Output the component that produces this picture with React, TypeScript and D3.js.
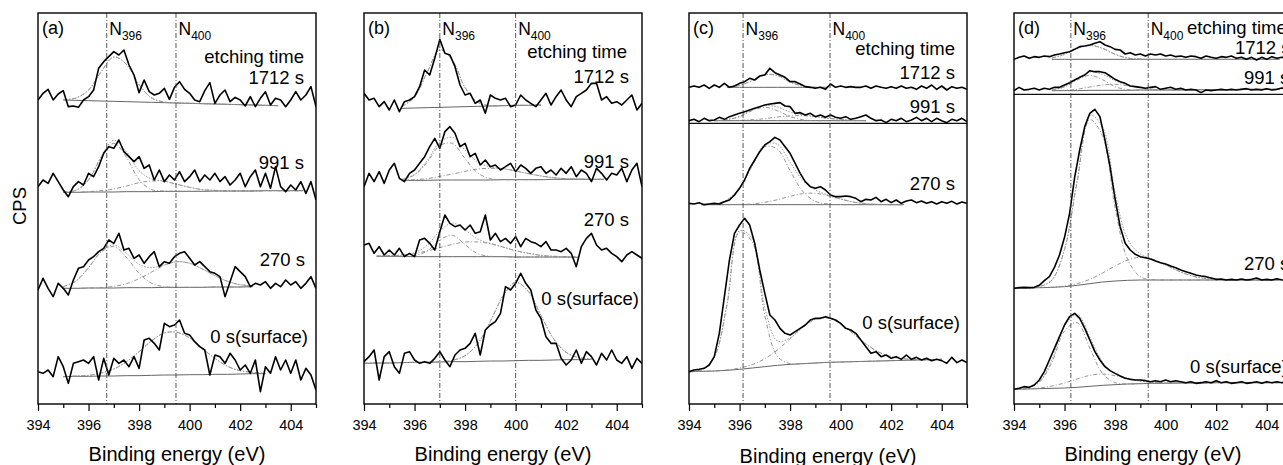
import { useEffect, useRef } from "react";
import * as d3 from "d3";

const _ = null;

// binding energy grid of the measured spectra (eV)
const ENERGY = [
  394.0, 394.2, 394.4, 394.6, 394.8, 395.0, 395.2, 395.4, 395.6, 395.8,
  396.0, 396.2, 396.4, 396.6, 396.8, 397.0, 397.2, 397.4, 397.6, 397.8,
  398.0, 398.2, 398.4, 398.6, 398.8, 399.0, 399.2, 399.4, 399.6, 399.8,
  400.0, 400.2, 400.4, 400.6, 400.8, 401.0, 401.2, 401.4, 401.6, 401.8,
  402.0, 402.2, 402.4, 402.6, 402.8, 403.0, 403.2, 403.4, 403.6, 403.8,
  404.0, 404.2, 404.4, 404.6, 404.8, 405.0,
];

// energy grid of the fitted curves (eV)
const FIT_ENERGY = [
  394.0, 394.5, 395.0, 395.5, 396.0, 396.5, 397.0, 397.5, 398.0, 398.5, 399.0, 399.5,
  400.0, 400.5, 401.0, 401.5, 402.0, 402.5, 403.0, 403.5, 404.0, 404.5, 405.0,
];

const X_TICKS = [394, 396, 398, 400, 402, 404];
const X_MINOR = [395, 397, 399, 401, 403, 405];
const ETCH_TIMES = ["1712 s", "991 s", "270 s", "0 s(surface)"];

// ---- panel (a) ----
const A_1712 = [912, 932, 944, 912, 930, 940, 892, 894, 890, 912, 922, 942, 1007, 1027, 1042, 1057, 1047, 1062, 1017, 987, 934, 972, 937, 927, 932, 947, 914, 950, 967, 944, 932, 912, 907, 940, 964, 902, 927, 942, 907, 920, 912, 894, 922, 892, 917, 937, 897, 917, 912, 892, 912, 937, 912, 927, 952, 892];
const A_991 = [652, 672, 662, 692, 667, 642, 622, 652, 667, 657, 692, 682, 712, 752, 772, 767, 792, 757, 742, 727, 742, 707, 717, 672, 702, 667, 687, 672, 697, 667, 682, 702, 667, 687, 672, 692, 667, 682, 657, 672, 692, 652, 682, 702, 652, 692, 647, 712, 652, 637, 657, 642, 667, 632, 667, 612];
const A_270 = [342, 377, 347, 322, 362, 347, 327, 372, 407, 412, 432, 442, 457, 467, 492, 482, 512, 462, 467, 437, 447, 422, 442, 457, 412, 427, 422, 442, 452, 457, 437, 417, 427, 412, 397, 392, 382, 322, 367, 412, 397, 382, 352, 362, 357, 367, 347, 362, 352, 372, 357, 367, 347, 362, 382, 347];
const A_0 = [97, 92, 102, 82, 142, 112, 62, 122, 127, 132, 122, 142, 72, 137, 87, 137, 122, 132, 112, 142, 107, 192, 197, 182, 162, 242, 232, 237, 252, 212, 207, 187, 172, 162, 87, 147, 142, 122, 152, 132, 102, 117, 92, 132, 37, 112, 92, 142, 102, 132, 92, 132, 72, 107, 87, 42];

const A_1712_BG = [_, _, 912, 911, 910, 909, 908, 907, 906, 905, 904, 903, 902, 901, 900, 899, 898, 897, 896, 895, _, _, _];
const A_1712_P1 = [0, 0, 1, 7, 32, 88, 133, 112, 52, 13, 2, 0, 0, 0, 0, 0, 0, 0, 0, 0, 0, 0, 0];
const A_991_BG = [_, _, 635, 635, 636, 636, 636, 637, 637, 637, 638, 638, 638, 638, 639, 639, 639, 639, 640, 640, 640, 640, _];
const A_991_P1 = [0, 0, 1, 6, 36, 103, 146, 103, 36, 6, 1, 0, 0, 0, 0, 0, 0, 0, 0, 0, 0, 0, 0];
const A_991_P2 = [0, 0, 0, 0, 1, 4, 9, 17, 27, 32, 30, 21, 12, 5, 2, 0, 0, 0, 0, 0, 0, 0, 0];
const A_270_BG = [_, _, 347, 347, 348, 348, 348, 349, 349, 349, 350, 350, 350, 350, 351, 351, 351, 352, _, _, _, _, _];
const A_270_P1 = [0, 0, 5, 22, 61, 108, 124, 91, 43, 13, 2, 0, 0, 0, 0, 0, 0, 0, 0, 0, 0, 0, 0];
const A_270_P2 = [0, 0, 0, 0, 0, 1, 5, 12, 27, 47, 66, 77, 72, 55, 34, 17, 7, 2, 0, 0, 0, 0, 0];
const A_0_BG = [_, _, 82, 83, 83, 84, 84, 85, 85, 86, 87, 87, 88, 88, 89, 89, 90, 91, 91, _, _, _, _];
const A_0_P1 = [0, 0, 0, 1, 3, 9, 21, 42, 72, 104, 126, 128, 110, 79, 48, 24, 10, 4, 1, 0, 0, 0, 0];

// ---- panel (b) ----
const B_1712 = [932, 912, 917, 892, 907, 882, 912, 877, 907, 912, 922, 952, 1002, 987, 1037, 1094, 1052, 1047, 1012, 957, 927, 932, 902, 912, 872, 927, 917, 912, 917, 892, 897, 927, 912, 902, 892, 912, 932, 897, 922, 942, 912, 892, 922, 932, 942, 962, 962, 912, 922, 902, 907, 897, 912, 927, 882, 902];
const B_991 = [652, 692, 667, 697, 662, 702, 722, 677, 667, 692, 702, 722, 742, 772, 797, 767, 817, 832, 812, 772, 782, 742, 752, 717, 732, 712, 717, 702, 712, 722, 697, 717, 707, 692, 707, 712, 692, 702, 687, 707, 692, 712, 682, 702, 692, 667, 707, 692, 672, 692, 687, 707, 667, 702, 722, 652];
const B_270 = [477, 482, 452, 472, 447, 462, 447, 467, 442, 452, 442, 492, 497, 482, 462, 517, 567, 542, 532, 537, 522, 537, 512, 517, 567, 492, 512, 487, 497, 482, 502, 472, 497, 487, 482, 472, 487, 462, 462, 457, 467, 452, 412, 472, 497, 512, 477, 462, 467, 452, 442, 427, 447, 457, 447, 437];
const B_0 = [127, 142, 162, 72, 142, 157, 112, 92, 152, 157, 132, 122, 127, 122, 137, 157, 132, 112, 147, 162, 167, 182, 212, 147, 222, 237, 247, 272, 352, 342, 362, 392, 362, 342, 282, 257, 202, 182, 182, 137, 117, 132, 162, 122, 157, 142, 117, 152, 132, 162, 132, 122, 142, 107, 137, 122];

const B_1712_BG = [_, _, _, 887, 888, 889, 890, 891, 892, 893, 894, 895, 896, 896, 897, _, _, _, _, _, _, _, _];
const B_1712_P1 = [0, 0, 0, 5, 33, 106, 173, 140, 57, 12, 1, 0, 0, 0, 0, 0, 0, 0, 0, 0, 0, 0, 0];
const B_991_BG = [_, _, _, 671, 671, 671, 672, 672, 672, 672, 672, 673, 673, 673, 673, 674, 674, 674, 674, 674, _, _, _];
const B_991_P1 = [0, 0, 0, 2, 16, 54, 103, 110, 64, 21, 4, 0, 0, 0, 0, 0, 0, 0, 0, 0, 0, 0, 0];
const B_991_P2 = [0, 0, 0, 1, 2, 5, 11, 18, 26, 33, 35, 33, 26, 18, 11, 5, 2, 1, 0, 0, 0, 0, 0];
const B_270_BG = [_, 443, 443, 443, 442, 442, 442, 442, 442, 442, 442, 442, 441, 441, 441, 441, 441, 440, _, _, _, _, _];
const B_270_P1 = [0, 0, 0, 0, 3, 17, 50, 64, 36, 9, 1, 0, 0, 0, 0, 0, 0, 0, 0, 0, 0, 0, 0];
const B_270_P2 = [0, 1, 2, 4, 9, 17, 27, 37, 44, 44, 39, 29, 19, 11, 5, 2, 1, 0, 0, 0, 0, 0, 0];
const B_0_BG = [122, 123, 123, 124, 125, 125, 126, 127, 127, 128, 129, 129, 130, 131, 131, 132, 133, 133, 134, _, _, _, _];
const B_0_P1 = [0, 0, 0, 0, 0, 0, 1, 4, 18, 53, 119, 195, 235, 207, 135, 64, 22, 6, 1, 0, 0, 0, 0];

// ---- panel (c) ----
const C_1712 = [950, 954, 950, 957, 947, 957, 950, 962, 950, 954, 962, 967, 977, 972, 984, 987, 1007, 994, 987, 980, 967, 967, 960, 952, 950, 947, 950, 944, 960, 950, 954, 950, 952, 950, 950, 954, 947, 954, 950, 947, 952, 947, 954, 947, 950, 944, 954, 947, 957, 944, 954, 942, 952, 947, 950, 944];
const C_991 = [850, 854, 847, 857, 850, 852, 860, 854, 862, 867, 872, 877, 882, 887, 892, 897, 900, 902, 904, 894, 892, 872, 874, 867, 872, 862, 867, 860, 867, 860, 857, 862, 854, 857, 862, 867, 857, 850, 852, 844, 854, 850, 857, 847, 852, 860, 850, 857, 847, 857, 850, 844, 854, 850, 857, 847];
const C_270 = [602, 600, 604, 598, 600, 602, 600, 607, 612, 627, 647, 672, 707, 732, 757, 777, 787, 800, 792, 772, 752, 722, 692, 667, 652, 647, 652, 642, 627, 622, 622, 624, 622, 617, 607, 614, 612, 620, 607, 614, 604, 612, 602, 609, 612, 604, 609, 602, 607, 600, 607, 602, 608, 600, 606, 602];
const C_0 = [97, 102, 104, 107, 117, 142, 212, 322, 432, 512, 537, 557, 537, 482, 402, 332, 267, 252, 227, 212, 207, 217, 227, 237, 252, 257, 257, 262, 257, 252, 242, 227, 222, 212, 192, 172, 152, 157, 142, 147, 137, 142, 134, 147, 134, 140, 132, 137, 130, 134, 130, 122, 140, 124, 132, 124];

const C_1712_BG = [_, _, _, 950, 950, 950, 950, 950, 950, 950, 950, 950, _, _, _, _, _, _, _, _, _, _, _];
const C_1712_P1 = [0, 0, 0, 1, 6, 20, 38, 35, 16, 4, 0, 0, 0, 0, 0, 0, 0, 0, 0, 0, 0, 0, 0];
const C_991_BG = [_, _, 850, 850, 850, 850, 850, 850, 850, 850, 850, 850, 850, 850, 850, _, _, _, _, _, _, _, _];
const C_991_P1 = [0, 0, 0, 3, 12, 30, 40, 30, 12, 3, 0, 0, 0, 0, 0, 0, 0, 0, 0, 0, 0, 0, 0];
const C_991_P2 = [0, 0, 0, 0, 1, 3, 6, 11, 14, 15, 12, 7, 4, 1, 0, 0, 0, 0, 0, 0, 0, 0, 0];
const C_270_BG = [_, 598, 598, 598, 598, 598, 598, 598, 598, 598, 598, 598, 598, 598, 598, 598, 598, 598, _, _, _, _, _];
const C_270_P1 = [0, 0, 2, 14, 50, 116, 174, 166, 102, 40, 10, 2, 0, 0, 0, 0, 0, 0, 0, 0, 0, 0, 0];
const C_270_P2 = [0, 0, 0, 0, 1, 2, 7, 15, 25, 33, 34, 27, 17, 8, 3, 1, 0, 0, 0, 0, 0, 0, 0];
const C_0_BG = [97, 98, 99, 101, 104, 108, 112, 116, 119, 121, 123, 125, 126, 127, 128, 129, 130, 131, 132, 133, 134, _, _];
const C_0_P1 = [0, 4, 41, 196, 412, 379, 153, 27, 2, 0, 0, 0, 0, 0, 0, 0, 0, 0, 0, 0, 0, 0, 0];
const C_0_P2 = [0, 0, 0, 1, 4, 10, 24, 46, 77, 109, 131, 133, 115, 84, 52, 27, 12, 5, 1, 0, 0, 0, 0];

// ---- panel (d) ----
const D_1712 = [1034, 1040, 1044, 1037, 1042, 1040, 1044, 1042, 1047, 1050, 1054, 1057, 1064, 1072, 1074, 1077, 1082, 1087, 1077, 1072, 1064, 1062, 1050, 1054, 1047, 1050, 1044, 1050, 1047, 1050, 1044, 1047, 1042, 1044, 1040, 1044, 1042, 1037, 1044, 1040, 1037, 1042, 1040, 1044, 1037, 1040, 1034, 1040, 1032, 1040, 1034, 1042, 1037, 1040, 1040, 1040];
const D_991 = [940, 950, 942, 944, 947, 942, 947, 944, 950, 950, 957, 964, 972, 980, 987, 1000, 997, 997, 994, 984, 974, 967, 962, 954, 952, 950, 947, 950, 952, 944, 947, 950, 944, 947, 942, 944, 942, 934, 942, 940, 942, 944, 942, 944, 942, 944, 946, 942, 944, 942, 946, 942, 944, 948, 946, 946];
const D_270 = [347, 349, 350, 349, 350, 356, 370, 382, 410, 447, 500, 572, 680, 762, 832, 872, 884, 862, 792, 712, 615, 532, 482, 462, 449, 442, 439, 435, 429, 424, 420, 414, 409, 402, 397, 392, 387, 384, 382, 378, 374, 375, 372, 374, 372, 375, 372, 374, 378, 372, 374, 372, 376, 372, 372, 372];
const D_0 = [44, 47, 52, 50, 57, 72, 97, 132, 167, 202, 237, 262, 272, 257, 227, 192, 157, 132, 112, 100, 92, 84, 77, 74, 72, 72, 70, 67, 70, 67, 72, 67, 70, 67, 64, 67, 62, 64, 67, 64, 70, 64, 67, 62, 64, 67, 62, 64, 67, 62, 67, 64, 67, 64, 64, 64];

const D_1712_BG = [_, _, _, 1034, 1034, 1034, 1034, 1034, 1034, 1034, 1034, 1034, 1034, 1034, 1034, 1034, 1034, 1034, 1034, 1034, 1034, 1034, _];
const D_1712_P1 = [0, 0, 0, 4, 15, 33, 42, 33, 15, 4, 1, 0, 0, 0, 0, 0, 0, 0, 0, 0, 0, 0, 0];
const D_991_BG = [_, _, _, 940, 940, 940, 941, 941, 941, 941, 942, 942, 942, 942, 943, 943, 943, 943, 944, 944, 944, 944, _];
const D_991_P1 = [0, 0, 0, 2, 11, 32, 45, 32, 11, 2, 0, 0, 0, 0, 0, 0, 0, 0, 0, 0, 0, 0, 0];
const D_991_P2 = [0, 0, 0, 0, 1, 4, 10, 16, 18, 14, 7, 2, 1, 0, 0, 0, 0, 0, 0, 0, 0, 0, 0];
const D_270_BG = [347, 348, 349, 350, 352, 356, 361, 366, 369, 371, 372, 372, 372, 372, 372, 372, 372, 372, 372, 372, 372, 372, _];
const D_270_P1 = [0, 0, 3, 22, 111, 311, 492, 439, 220, 62, 10, 1, 0, 0, 0, 0, 0, 0, 0, 0, 0, 0, 0];
const D_270_P2 = [0, 0, 0, 0, 2, 5, 13, 27, 45, 61, 68, 61, 45, 27, 13, 5, 2, 0, 0, 0, 0, 0, 0];
const D_0_BG = [44, 45, 46, 47, 48, 50, 53, 56, 58, 60, 61, 62, 62, 63, 63, 63, 64, 64, 64, 64, 64, 64, _];
const D_0_P1 = [0, 2, 19, 78, 171, 194, 115, 36, 6, 0, 0, 0, 0, 0, 0, 0, 0, 0, 0, 0, 0, 0, 0];
const D_0_P2 = [0, 1, 2, 7, 15, 25, 33, 34, 27, 17, 8, 3, 1, 0, 0, 0, 0, 0, 0, 0, 0, 0, 0];

const FONT = "'Liberation Sans', Arial, Helvetica, sans-serif";
const W = 1283;
const H = 465;
const PANEL_W = 278;
const TOP = 13;
const BOTTOM = 404;

// label positions are px offsets from the panel's left edge
const PANELS = [
  {
    tag: "(a)", left: 38, marks: [396.72, 399.46], divider: null,
    spectra: [A_1712, A_991, A_270, A_0],
    fits: [[A_1712_BG, [A_1712_P1]], [A_991_BG, [A_991_P1, A_991_P2]], [A_270_BG, [A_270_P1, A_270_P2]], [A_0_BG, [A_0_P1]]],
    anchor: "end", etch: [266, 63], times: [[266, 84], [266, 169], [267, 266], [270, 343]],
  },
  {
    tag: "(b)", left: 364, marks: [397.0, 400.0], divider: null,
    spectra: [B_1712, B_991, B_270, B_0],
    fits: [[B_1712_BG, [B_1712_P1]], [B_991_BG, [B_991_P1, B_991_P2]], [B_270_BG, [B_270_P1, B_270_P2]], [B_0_BG, [B_0_P1]]],
    anchor: "end", etch: [263, 58], times: [[265, 83], [265, 168], [265, 226], [275, 305]],
  },
  {
    tag: "(c)", left: 689, marks: [396.14, 399.58], divider: 842,
    spectra: [C_1712, C_991, C_270, C_0],
    fits: [[C_1712_BG, [C_1712_P1]], [C_991_BG, [C_991_P1, C_991_P2]], [C_270_BG, [C_270_P1, C_270_P2]], [C_0_BG, [C_0_P1, C_0_P2]]],
    anchor: "end", etch: [266, 55], times: [[266, 79], [266, 113], [266, 190], [271, 329]],
  },
  {
    tag: "(d)", left: 1014, marks: [396.25, 399.31], divider: 929,
    spectra: [D_1712, D_991, D_270, D_0],
    fits: [[D_1712_BG, [D_1712_P1]], [D_991_BG, [D_991_P1, D_991_P2]], [D_270_BG, [D_270_P1, D_270_P2]], [D_0_BG, [D_0_P1, D_0_P2]]],
    anchor: "start", etch: [173, 34], times: [[221, 54], [230, 84], [230, 270], [176, 373]],
  },
];

export default function App() {
  const ref = useRef<SVGSVGElement>(null);

  useEffect(() => {
    const svg = d3.select(ref.current);
    svg.selectAll("*").remove();
    svg.append("rect").attr("width", W).attr("height", H).attr("fill", "#fff");

    const y = d3.scaleLinear().domain([0, 1173]).range([BOTTOM, TOP]);

    svg
      .append("text")
      .attr("transform", `translate(26,206) rotate(-90)`)
      .attr("text-anchor", "middle")
      .attr("font-family", FONT)
      .attr("font-size", 18.5)
      .text("CPS");

    PANELS.forEach((p, pi) => {
      const x = d3.scaleLinear().domain([394, 405]).range([p.left, p.left + PANEL_W]);
      const g = svg.append("g");

      const clipId = `clip-${pi}`;
      g.append("clipPath")
        .attr("id", clipId)
        .append("rect")
        .attr("x", p.left)
        .attr("y", TOP)
        .attr("width", PANEL_W)
        .attr("height", BOTTOM - TOP);

      const plot = g.append("g").attr("clip-path", `url(#${clipId})`);

      const line = d3
        .line<[number, number | null]>()
        .defined((d) => d[1] != null)
        .x((d) => x(d[0]))
        .y((d) => y(d[1] as number));

      // fitted curves: background, components, envelope
      p.fits.forEach(([bg, comps]) => {
        const bgPts = FIT_ENERGY.map((e, i) => [e, bg[i]] as [number, number | null]);
        plot.append("path")
          .attr("d", line.curve(d3.curveLinear)(bgPts))
          .attr("fill", "none")
          .attr("stroke", "#666")
          .attr("stroke-width", 1);

        (comps as number[][]).forEach((c) => {
          const pts = FIT_ENERGY.map((e, i) => [e, bg[i] == null ? null : (bg[i] as number) + c[i]] as [number, number | null]);
          plot.append("path")
            .attr("d", line.curve(d3.curveCatmullRom)(pts))
            .attr("fill", "none")
            .attr("stroke", "#888")
            .attr("stroke-width", 0.9)
            .attr("stroke-dasharray", "4 2 1 2");
        });

        const env = FIT_ENERGY.map((e, i) => [
          e,
          bg[i] == null ? null : (bg[i] as number) + d3.sum(comps as number[][], (c) => c[i]),
        ] as [number, number | null]);
        plot.append("path")
          .attr("d", line.curve(d3.curveCatmullRom)(env))
          .attr("fill", "none")
          .attr("stroke", "#999")
          .attr("stroke-width", 1)
          .attr("stroke-dasharray", "1.5 1.5");
      });

      if (p.divider != null) {
        plot.append("line")
          .attr("x1", p.left).attr("x2", p.left + PANEL_W)
          .attr("y1", y(p.divider)).attr("y2", y(p.divider))
          .attr("stroke", "#111")
          .attr("stroke-width", 1.2);
      }

      // measured spectra
      p.spectra.forEach((s) => {
        const pts = ENERGY.map((e, i) => [e, s[i]] as [number, number | null]);
        plot.append("path")
          .attr("d", line.curve(d3.curveLinear)(pts))
          .attr("fill", "none")
          .attr("stroke", "#000")
          .attr("stroke-width", 1.6)
          .attr("stroke-linejoin", "round");
      });

      // N396 / N400 marker lines
      p.marks.forEach((m, mi) => {
        plot.append("line")
          .attr("x1", x(m)).attr("x2", x(m))
          .attr("y1", TOP).attr("y2", BOTTOM)
          .attr("stroke", "#444")
          .attr("stroke-width", 0.9)
          .attr("stroke-dasharray", "5 2 1 2");
        const t = plot.append("text")
          .attr("x", x(m) + 2.5)
          .attr("y", 35)
          .attr("font-family", FONT)
          .attr("font-size", 17.5);
        t.append("tspan").text("N");
        t.append("tspan").attr("font-size", 12).attr("dy", 4.5).text(mi === 0 ? "396" : "400");
      });

      const txt = (s: string, px: number, py: number, anchor: string, size: number) =>
        plot.append("text")
          .attr("x", p.left + px)
          .attr("y", py)
          .attr("text-anchor", anchor)
          .attr("font-family", FONT)
          .attr("font-size", size)
          .text(s);

      txt(p.tag, 4, 34, "start", 18);
      txt("etching time", p.etch[0], p.etch[1], p.anchor, 18.5);
      ETCH_TIMES.forEach((s, i) => txt(s, p.times[i][0], p.times[i][1], p.anchor, 18.5));

      // frame
      g.append("rect")
        .attr("x", p.left)
        .attr("y", TOP)
        .attr("width", PANEL_W)
        .attr("height", BOTTOM - TOP)
        .attr("fill", "none")
        .attr("stroke", "#000")
        .attr("stroke-width", 1.4);

      // x axis: labelled major ticks, plus unlabelled minor ticks in their own group
      const axMajor = g.append("g").attr("transform", `translate(0,${BOTTOM})`);
      axMajor.call(
        d3.axisBottom(x).tickValues(X_TICKS).tickSize(7).tickPadding(9).tickFormat(d3.format("d"))
      );
      const axMinor = g.append("g").attr("transform", `translate(0,${BOTTOM})`);
      axMinor.call(d3.axisBottom(x).tickValues(X_MINOR).tickSize(4).tickFormat(() => ""));
      [axMajor, axMinor].forEach((ax) => {
        ax.selectAll(".domain").remove();
        ax.selectAll("line").attr("stroke", "#000").attr("stroke-width", 1.2);
        ax.selectAll("text")
          .attr("font-family", FONT)
          .attr("font-size", 14.5)
          .attr("fill", "#000");
      });

      g.append("text")
        .attr("x", p.left + PANEL_W / 2)
        .attr("y", pi === 2 ? 463 : 461)
        .attr("text-anchor", "middle")
        .attr("font-family", FONT)
        .attr("font-size", 20)
        .text("Binding energy (eV)");
    });
  }, []);

  return (
    <svg
      ref={ref}
      width={W}
      height={H}
      style={{ position: "absolute", left: 0, top: 0, display: "block" }}
    />
  );
}
